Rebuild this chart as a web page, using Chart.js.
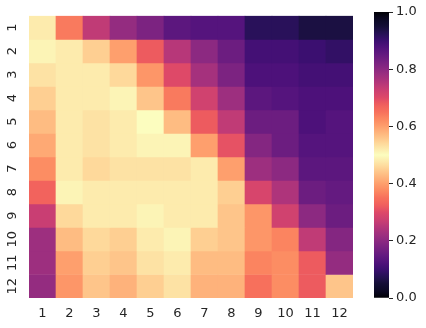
<!DOCTYPE html>
<html>
<head>
<meta charset="utf-8">
<script src="https://cdn.jsdelivr.net/npm/chart.js@4"></script>
<style>
  body { margin: 0; background: #fff; }
  #wrap { position: relative; width: 426px; height: 328px; }
  canvas { position: absolute; left: 0; top: 0; }
</style>
</head>
<body>
<div id="wrap">
  <canvas id="heat" width="426" height="328"></canvas>
  <canvas id="bar" width="426" height="328"></canvas>
</div>
<script>
'use strict';

let rowLabels = ['1', '2', '3', '4', '5', '6', '7', '8', '9', '10', '11', '12'];
let colLabels = ['1', '2', '3', '4', '5', '6', '7', '8', '9', '10', '11', '12'];

// cell values, one row per array
let heat = [
  [0.52, 0.64, 0.74, 0.79, 0.82, 0.86, 0.87, 0.87, 0.92, 0.92, 0.94, 0.94],
  [0.49, 0.52, 0.55, 0.60, 0.68, 0.75, 0.80, 0.84, 0.89, 0.89, 0.90, 0.91],
  [0.47, 0.48, 0.52, 0.54, 0.61, 0.70, 0.77, 0.82, 0.88, 0.88, 0.89, 0.89],
  [0.45, 0.48, 0.48, 0.51, 0.56, 0.64, 0.72, 0.78, 0.86, 0.87, 0.88, 0.88],
  [0.43, 0.48, 0.47, 0.48, 0.50, 0.57, 0.68, 0.74, 0.84, 0.84, 0.88, 0.87],
  [0.41, 0.48, 0.47, 0.48, 0.49, 0.51, 0.60, 0.69, 0.81, 0.84, 0.87, 0.87],
  [0.38, 0.48, 0.46, 0.47, 0.47, 0.47, 0.52, 0.60, 0.78, 0.80, 0.86, 0.86],
  [0.33, 0.49, 0.48, 0.48, 0.48, 0.48, 0.48, 0.55, 0.71, 0.76, 0.84, 0.85],
  [0.27, 0.46, 0.48, 0.48, 0.49, 0.48, 0.48, 0.44, 0.61, 0.72, 0.80, 0.84],
  [0.22, 0.43, 0.46, 0.45, 0.48, 0.49, 0.45, 0.44, 0.61, 0.63, 0.74, 0.81],
  [0.22, 0.40, 0.45, 0.44, 0.47, 0.48, 0.43, 0.43, 0.63, 0.62, 0.68, 0.79],
  [0.21, 0.39, 0.44, 0.42, 0.45, 0.47, 0.42, 0.42, 0.65, 0.62, 0.68, 0.56]
];

let cbarTicks = [0, 0.2, 0.4, 0.6, 0.8, 1.0];

// magma stops every 0.05
let magma = ['#000004', '#0b0924', '#140e36', '#251255', '#3b0f70', '#51127c', '#641a80',
  '#782281', '#8c2981', '#a1307e', '#b73779', '#cd4071', '#de4968', '#f1605d', '#f7705c',
  '#fc8961', '#fe9f6d', '#feb77e', '#fecf92', '#fde7a9', '#fcfdbf'];

function hexToRgb(h) {
  return [parseInt(h.slice(1, 3), 16), parseInt(h.slice(3, 5), 16), parseInt(h.slice(5, 7), 16)];
}

function magmaAt(t) {
  t = Math.max(0, Math.min(1, t));
  let pos = t * (magma.length - 1);
  let i = Math.min(Math.floor(pos), magma.length - 2);
  let f = pos - i;
  let a = hexToRgb(magma[i]);
  let b = hexToRgb(magma[i + 1]);
  let c = a.map((v, k) => Math.round(v + (b[k] - v) * f));
  return `rgb(${c[0]}, ${c[1]}, ${c[2]})`;
}

// mirrored magma: black at 0 and 1, pale yellow at 0.5
function cmap(v) {
  return magmaAt(1 - Math.abs(2 * v - 1));
}

let textColor = '#262626';
let tickFont = { family: 'DejaVu Sans', size: 13 };

let datasets = rowLabels.map((r, i) => ({
  label: r,
  data: colLabels.map(() => 1),
  backgroundColor: heat[i].map(cmap),
  borderWidth: 0,
  barPercentage: 1,
  categoryPercentage: 1
}));

new Chart(document.getElementById('heat'), {
  type: 'bar',
  data: { labels: colLabels, datasets: datasets },
  options: {
    responsive: false,
    animation: false,
    devicePixelRatio: 1,
    layout: { padding: { top: 12, right: 73, left: 0, bottom: 0 } },
    plugins: { legend: { display: false }, tooltip: { enabled: false } },
    scales: {
      x: {
        stacked: true,
        grid: { display: false, drawTicks: false },
        border: { display: false },
        ticks: { font: tickFont, color: textColor, padding: 8, maxRotation: 0 },
        afterFit: s => { s.height = 30; }
      },
      y: {
        stacked: true,
        min: 0,
        max: 12,
        reverse: true,
        grid: { display: false, drawTicks: false },
        border: { display: false },
        afterBuildTicks: s => { s.ticks = rowLabels.map((l, i) => ({ value: i + 0.5 })); },
        ticks: {
          autoSkip: false,
          font: tickFont,
          color: textColor,
          minRotation: 90,
          maxRotation: 90,
          crossAlign: 'center',
          padding: 8,
          callback: (v, i) => rowLabels[i]
        },
        afterFit: s => { s.width = 29; }
      }
    }
  }
});

// colour bar
new Chart(document.getElementById('bar'), {
  type: 'bar',
  data: {
    labels: [''],
    datasets: [{
      data: [[0, 1]],
      borderWidth: 0,
      barPercentage: 1,
      categoryPercentage: 1,
      backgroundColor: ctx => {
        let chart = ctx.chart;
        if (!chart.chartArea) return '#000';
        let y = chart.scales.y;
        let g = chart.ctx.createLinearGradient(0, y.getPixelForValue(0), 0, y.getPixelForValue(1));
        for (let k = 0; k <= 100; k++) {
          g.addColorStop(k / 100, cmap(k / 100));
        }
        return g;
      }
    }]
  },
  options: {
    responsive: false,
    animation: false,
    devicePixelRatio: 1,
    layout: { padding: { top: 12, right: 0, left: 374, bottom: 30 } },
    plugins: { legend: { display: false }, tooltip: { enabled: false } },
    scales: {
      x: { display: false },
      y: {
        position: 'right',
        min: 0,
        max: 1,
        grid: { drawOnChartArea: false, tickLength: 4, tickColor: textColor, tickWidth: 1 },
        border: { display: false },
        afterBuildTicks: s => { s.ticks = cbarTicks.map(v => ({ value: v })); },
        ticks: {
          font: tickFont,
          color: textColor,
          padding: 3,
          callback: v => v.toFixed(1)
        },
        afterFit: s => { s.width = 37; }
      }
    }
  }
});
</script>
</body>
</html>
